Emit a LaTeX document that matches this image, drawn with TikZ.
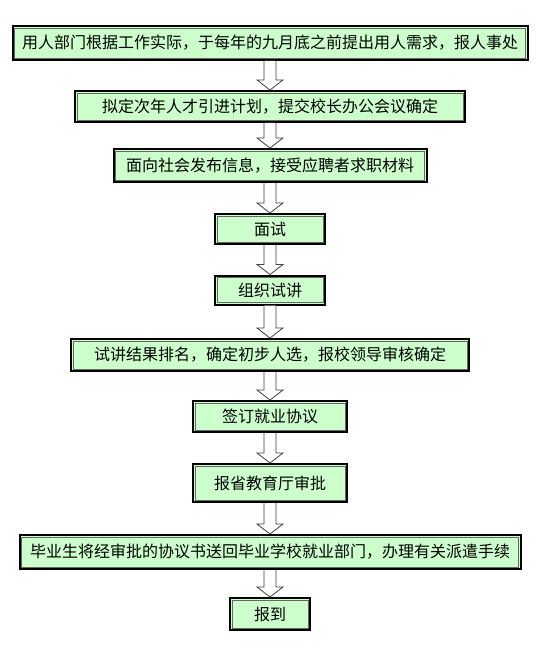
\documentclass[tikz,border=0pt]{standalone}
\usepackage{fontspec}
\setmainfont{Noto Sans CJK SC}
\usetikzlibrary{calc}
\definecolor{boxgreen}{HTML}{CCFFCC}
\tikzset{
    stepbox/.style={draw=black, line width=2pt, fill=boxgreen, inner sep=0pt,
        font=\fontsize{16}{16}\selectfont},
    innerline/.style={draw=black!60, line width=0.8pt},
    blockarrow/.style={draw=black!75, line width=0.8pt, fill=white, line join=miter},
}
\begin{document}
\begin{tikzpicture}[x=1pt, y=-1pt]
    \useasboundingbox (0,0) rectangle (544,655);

    \node[stepbox, minimum width=515, minimum height=34] (b1) at (270,43)
        {用人部门根据工作实际，于每年的九月底之前提出用人需求，报人事处};
    \node[stepbox, minimum width=390, minimum height=31] (b2) at (270,106.5)
        {拟定次年人才引进计划，提交校长办公会议确定};
    \node[stepbox, minimum width=313, minimum height=33] (b3) at (270,165.5)
        {面向社会发布信息，接受应聘者求职材料};
    \node[stepbox, minimum width=110, minimum height=30] (b4) at (270,229) {面试};
    \node[stepbox, minimum width=110, minimum height=29] (b5) at (270,290) {组织试讲};
    \node[stepbox, minimum width=398, minimum height=32] (b6) at (270,355)
        {试讲结果排名，确定初步人选，报校领导审核确定};
    \node[stepbox, minimum width=154, minimum height=31] (b7) at (270,416.5) {签订就业协议};
    \node[stepbox, minimum width=154, minimum height=38] (b8) at (270,483) {报省教育厅审批};
    \node[stepbox, minimum width=501, minimum height=34] (b9) at (270,552)
        {毕业生将经审批的协议书送回毕业学校就业部门，办理有关派遣手续};
    \node[stepbox, minimum width=80, minimum height=32] (b10) at (270,614) {报到};

    \foreach \n in {b1,b2,b3,b4,b5,b6,b7,b8,b9,b10}
        \draw[innerline] ($(\n.south west)+(3,-3)$) rectangle ($(\n.north east)+(-3,3)$);

    \foreach \a/\b in {b1/b2,b2/b3,b3/b4,b4/b5,b5/b6,b6/b7,b7/b8,b8/b9,b9/b10}
        \draw[blockarrow] ($(\a.south)+(-6,0)$) -- ($(\b.north)+(-6,-10)$)
            -- ($(\b.north)+(-13,-10)$) -- (\b.north) -- ($(\b.north)+(13,-10)$)
            -- ($(\b.north)+(6,-10)$) -- ($(\a.south)+(6,0)$);
\end{tikzpicture}
\end{document}
